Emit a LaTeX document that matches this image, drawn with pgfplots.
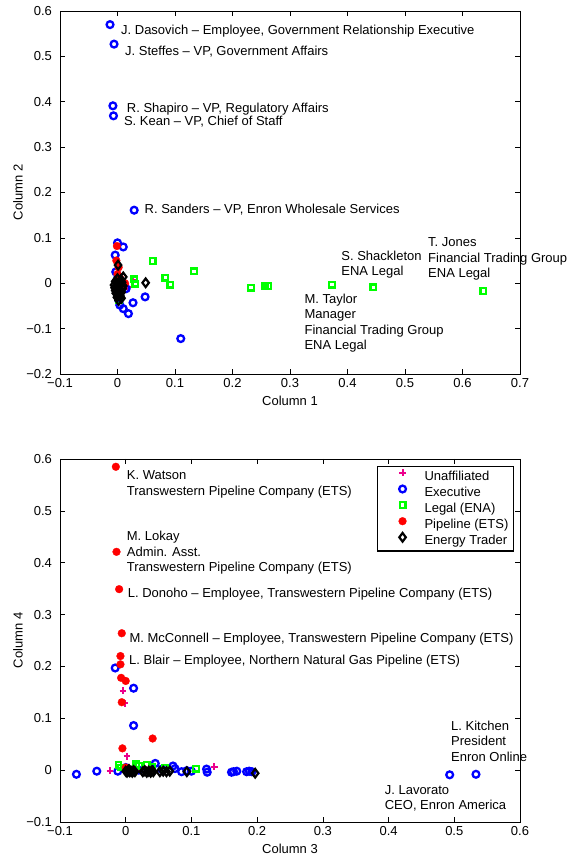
\documentclass[border=0pt]{standalone}
\usepackage{fontspec}
\setmainfont{Liberation Sans}
\usepackage{pgfplots}
\pgfplotsset{compat=1.18}
\newcommand\fntsz{\fontsize{13}{15.4}\selectfont}
\tikzset{lbl/.style={anchor=base west, inner sep=0pt, font=\fntsz}}
\begin{document}
\fntsz
\begin{tikzpicture}[font=\fntsz]
\useasboundingbox (0,0) rectangle (571pt,856pt);
\pgfplotsset{
  base/.style={
    scale only axis, width=460pt, height=363pt,
    anchor=south west,
    axis line style={line width=0.9pt},
    every tick/.style={black, line width=0.6pt},
    major tick length=5pt,
    tick align=inside,
    clip=false,
    ticklabel style={font=\fntsz},
    label style={font=\fntsz},
    yticklabel style={xshift=-3.5pt},
    /pgf/number format/assume math mode=true,
    xlabel style={at={(axis description cs:0.5,-0.0744)}, anchor=center},
    ylabel style={at={(axis description cs:-0.0913,0.5)}, anchor=center},
  },
  ua/.style={only marks, mark=+, color=magenta, mark size=3.4pt, mark options={solid, line width=2pt}},
  ex/.style={only marks, mark=o, color=blue, mark size=3.4pt, mark options={solid, line width=2.3pt}},
  lg/.style={only marks, mark=square, color=green, mark size=2.8pt, mark options={solid, line width=2.3pt}},
  pp/.style={only marks, mark=*, color=red, mark size=3.9pt, mark options={solid, line width=0.3pt}},
  et/.style={only marks, mark=diamond, color=black, mark size=4.3pt, mark options={solid, line width=2.2pt}},
}
% ---------------- top axis ----------------
\begin{axis}[base, at={(60pt,482pt)},
  xmin=-0.1, xmax=0.7, ymin=-0.2, ymax=0.6,
  xtick={-0.1,0,0.1,0.2,0.3,0.4,0.5,0.6,0.7},
  xticklabels={−0.1,0,0.1,0.2,0.3,0.4,0.5,0.6,0.7},
  ytick={-0.2,-0.1,0,0.1,0.2,0.3,0.4,0.5,0.6},
  yticklabels={−0.2,−0.1,0,0.1,0.2,0.3,0.4,0.5,0.6},
  xlabel={Column 1}, ylabel={Column 2}]
\addplot[ua] coordinates {(0.027,0.007) (0.019,-0.009) (0.005,0.005) (-0.002,-0.005) (0.012,-0.012) (0.003,0.020)};
\addplot[ex] coordinates {(-0.013,0.570) (-0.006,0.527) (-0.008,0.391) (-0.007,0.369) (0.029,0.161)
  (0.000,0.089) (0.010,0.080) (-0.004,0.062) (0.001,0.014) (0.048,-0.030) (0.027,-0.043) (0.019,-0.067)
  (0.010,-0.056) (0.002,-0.037) (0.004,-0.048) (0.110,-0.122) (0.015,-0.012) (-0.003,0.025) (0.000,-0.020) (0.006,0.005)};
\addplot[lg] coordinates {(0.061,0.049) (0.083,0.012) (0.092,-0.003) (0.133,0.026) (0.232,-0.010) (0.257,-0.007)
  (0.262,-0.006) (0.373,-0.003) (0.445,-0.009) (0.636,-0.017) (0.029,0.009) (0.031,-0.001) (0.003,-0.037) (0.002,-0.010)};
\addplot[pp] coordinates {(-0.001,0.082) (0.013,0.000) (0.002,0.035) (-0.002,0.050) (0.005,0.010) (0.008,-0.005) (0.000,0.020) (0.003,-0.015)};
\addplot[et] coordinates {(0.001,0.040) (0.010,0.014) (0.049,0.001) (0.007,-0.033) (-0.004,0.004) (-0.002,0.000)
  (0.000,-0.006) (0.002,-0.012) (0.004,-0.018) (-0.003,-0.022) (0.003,0.004) (0.001,-0.026) (-0.005,-0.010)
  (0.006,-0.003) (0.000,0.010) (-0.002,-0.015) (0.008,0.002) (0.002,-0.038) (0.005,-0.028)
  (-0.006,-0.004) (0.009,-0.012) (0.007,-0.020) (-0.004,-0.016) (0.010,-0.006) (-0.001,-0.031) (0.006,0.008)};
\node[lbl] at (axis cs:0.006,0.549) {J. Dasovich -- Employee, Government Relationship Executive};
\node[lbl] at (axis cs:0.013,0.501) {J. Steffes -- VP, Government Affairs};
\node[lbl] at (axis cs:0.016,0.377) {R. Shapiro -- VP, Regulatory Affairs};
\node[lbl] at (axis cs:0.011,0.347) {S. Kean -- VP, Chief of Staff};
\node[lbl] at (axis cs:0.047,0.154) {R. Sanders -- VP, Enron Wholesale Services};
\node[lbl] at (axis cs:0.389,0.051) {\begin{tabular}[t]{@{}l@{}}S. Shackleton\\ENA Legal\end{tabular}};
\node[lbl] at (axis cs:0.540,0.080) {\begin{tabular}[t]{@{}l@{}}T. Jones\\Financial Trading Group\\ENA Legal\end{tabular}};
\node[lbl] at (axis cs:0.325,-0.044) {\begin{tabular}[t]{@{}l@{}}M. Taylor\\Manager\\Financial Trading Group\\ENA Legal\end{tabular}};
\end{axis}
% ---------------- bottom axis ----------------
\begin{axis}[base, at={(60pt,34pt)},
  xmin=-0.1, xmax=0.6, ymin=-0.1, ymax=0.6,
  xtick={-0.1,0,0.1,0.2,0.3,0.4,0.5,0.6},
  xticklabels={−0.1,0,0.1,0.2,0.3,0.4,0.5,0.6},
  ytick={-0.1,0,0.1,0.2,0.3,0.4,0.5,0.6},
  yticklabels={−0.1,0,0.1,0.2,0.3,0.4,0.5,0.6},
  xlabel={Column 3}, ylabel={Column 4},
  legend cell align=left,
  legend image code/.code={\draw[#1] plot coordinates {(22pt,3.7pt)}; \path[draw=none] (0pt,0pt) (42pt,0pt);},
  legend style={at={(rel axis cs:0.987,0.981)}, anchor=north east, draw=black, line width=1.3pt,
    font=\fntsz, inner xsep=3pt, inner ysep=2pt, row sep=0pt,
    nodes={inner sep=2pt, text height=9.5pt, text depth=2.6pt}},
  ]
\addplot[ua] coordinates {(-0.004,0.153) (0.002,0.027) (-0.024,-0.001) (0.135,0.007) (-0.001,0.129) (0.005,0.003) (0.020,0.004)};
\addlegendentry{Unaffiliated}
\addplot[ex] coordinates {(-0.016,0.197) (0.012,0.158) (0.012,0.086) (-0.075,-0.008) (-0.044,-0.002) (0.493,-0.009)
  (0.533,-0.008) (-0.012,-0.002) (0.045,0.013) (0.072,0.008) (0.075,0.003) (0.085,-0.003) (0.093,-0.001)
  (0.123,0.002) (0.124,-0.004) (0.161,-0.004) (0.164,-0.003) (0.169,-0.002) (0.184,-0.003) (0.188,-0.002)
  (0.192,-0.003) (0.000,0.005) (0.020,0.000) (0.055,0.002) (0.100,-0.002)};
\addlegendentry{Executive}
\addplot[lg] coordinates {(-0.011,0.010) (-0.007,0.005) (0.016,0.011) (0.032,0.010) (0.107,0.003) (0.020,0.008) (0.040,0.006) (0.060,0.004)};
\addlegendentry{Legal (ENA)}
\addplot[pp] coordinates {(-0.015,0.585) (-0.014,0.421) (-0.010,0.349) (-0.006,0.264) (-0.008,0.220) (-0.008,0.204)
  (-0.007,0.178) (0.000,0.172) (-0.006,0.131) (0.041,0.061) (-0.005,0.042) (0.000,0.005) (0.010,0.000)};
\addlegendentry{Pipeline (ETS)}
\addplot[et] coordinates {(0.000,-0.002) (0.002,-0.004) (0.004,-0.001) (0.006,-0.003) (0.008,-0.002) (0.010,-0.004) (0.012,-0.001) (0.014,-0.003)
  (0.005,0.001) (0.026,-0.003) (0.029,-0.001) (0.032,-0.004) (0.035,-0.002) (0.038,-0.004) (0.040,-0.001) (0.042,-0.003) (0.052,-0.003)
  (0.057,-0.002) (0.062,-0.003) (0.067,-0.002) (0.093,-0.003) (0.197,-0.006)};
\addlegendentry{Energy Trader}
\node[lbl] at (axis cs:0.0015,0.560) {\begin{tabular}[t]{@{}l@{}}K. Watson\\Transwestern Pipeline Company (ETS)\end{tabular}};
\node[lbl] at (axis cs:0.0015,0.442) {\begin{tabular}[t]{@{}l@{}}M. Lokay\\Admin. Asst.\\Transwestern Pipeline Company (ETS)\end{tabular}};
\node[lbl] at (axis cs:0.003,0.332) {L. Donoho -- Employee, Transwestern Pipeline Company (ETS)};
\node[lbl] at (axis cs:0.0055,0.247) {M. McConnell -- Employee, Transwestern Pipeline Company (ETS)};
\node[lbl] at (axis cs:0.005,0.204) {L. Blair -- Employee, Northern Natural Gas Pipeline (ETS)};
\node[lbl] at (axis cs:0.495,0.077) {\begin{tabular}[t]{@{}l@{}}L. Kitchen\\President\\Enron Online\end{tabular}};
\node[lbl] at (axis cs:0.394,-0.047) {\begin{tabular}[t]{@{}l@{}}J. Lavorato\\CEO, Enron America\end{tabular}};
\end{axis}
\end{tikzpicture}
\end{document}
